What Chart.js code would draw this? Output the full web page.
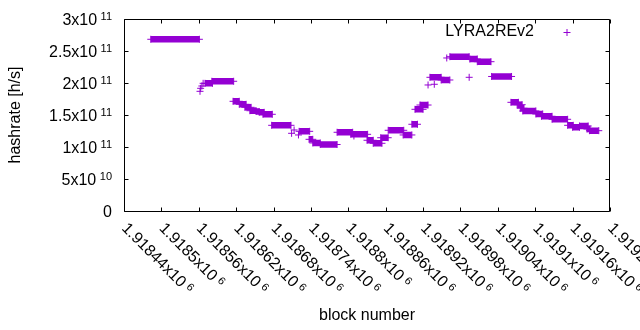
<!DOCTYPE html>
<html>
<head>
<meta charset="utf-8">
<script src="https://cdn.jsdelivr.net/npm/chart.js@4"></script>
<style>
  html, body { margin: 0; padding: 0; background: #fff; }
  #wrap { width: 640px; height: 330px; }
</style>
</head>
<body>
<div id="wrap"><canvas id="myChart" width="640" height="330"></canvas></div>
<script>
// runs of (almost) constant hashrate: first block, last block, h/s
const runStart = [
  1918483, 1918562, 1918563, 1918565, 1918567, 1918570, 1918581, 1918615, 1918625, 1918634,
  1918642, 1918652, 1918657, 1918663, 1918677, 1918709, 1918713, 1918720, 1918721, 1918737,
  1918743, 1918755, 1918782, 1918804, 1918809, 1918830, 1918840, 1918852, 1918864, 1918888,
  1918902, 1918907, 1918915, 1918928, 1918931, 1918938, 1918949, 1918958, 1918963, 1918994,
  1918995, 1919007, 1919030, 1919061, 1919071, 1919076, 1919080, 1919101, 1919110, 1919127,
  1919152, 1919160, 1919171, 1919183, 1919187
];
const runEnd = [
  1918561, 1918562, 1918563, 1918565, 1918567, 1918582, 1918616, 1918625, 1918636, 1918644,
  1918652, 1918657, 1918665, 1918678, 1918708, 1918709, 1918713, 1918720, 1918738, 1918743,
  1918755, 1918782, 1918807, 1918831, 1918809, 1918840, 1918854, 1918864, 1918889, 1918902,
  1918911, 1918920, 1918928, 1918928, 1918949, 1918938, 1918963, 1918958, 1918994, 1918994,
  1919007, 1919029, 1919062, 1919073, 1919079, 1919082, 1919101, 1919112, 1919127, 1919152,
  1919161, 1919171, 1919185, 1919188, 1919202
];
const runRate = [
  2.683e11, 1.870e11, 1.917e11, 1.953e11, 1.995e11, 1.995e11, 2.027e11, 1.714e11, 1.667e11, 1.620e11,
  1.567e11, 1.555e11, 1.542e11, 1.511e11, 1.339e11, 1.214e11, 1.266e11, 1.188e11, 1.245e11, 1.120e11,
  1.063e11, 1.039e11, 1.230e11, 1.198e11, 1.172e11, 1.105e11, 1.058e11, 1.145e11, 1.261e11, 1.188e11,
  1.355e11, 1.589e11, 1.656e11, 1.969e11, 2.089e11, 1.980e11, 2.047e11, 2.391e11, 2.411e11, 2.089e11,
  2.375e11, 2.333e11, 2.102e11, 1.698e11, 1.661e11, 1.605e11, 1.563e11, 1.516e11, 1.480e11, 1.433e11,
  1.339e11, 1.308e11, 1.328e11, 1.281e11, 1.255e11
];

const seriesName = "LYRA2REv2";

const yTickValues = [0, 5e10, 1e11, 1.5e11, 2e11, 2.5e11, 3e11];
const yTickMant = ["0", "5", "1", "1.5", "2", "2.5", "3"];
const yTickExp = ["", "10", "11", "11", "11", "11", "11"];

const xTickValues = [
  1918440, 1918500, 1918560, 1918620, 1918680, 1918740, 1918800,
  1918860, 1918920, 1918980, 1919040, 1919100, 1919160, 1919220
];
const xTickMant = [
  "1.91844", "1.9185", "1.91856", "1.91862", "1.91868", "1.91874", "1.9188",
  "1.91886", "1.91892", "1.91898", "1.91904", "1.9191", "1.91916", "1.91922"
];
const xTickExp = "6";

const purple = "#9400d3";
const FONT = '"Liberation Sans", Arial, sans-serif';
const MAIN = 16;
const SUP = 11;

// each run becomes a thick stroke between its first and last block, gaps between runs
const points = [];
runStart.forEach((s, i) => {
  points.push({ x: s, y: runRate[i] });
  if (runEnd[i] !== s) points.push({ x: runEnd[i], y: runRate[i] });
  points.push({ x: runEnd[i], y: null });
});

// "mantissa x10^exp" drawn left aligned from (x, y) baseline
function sciWidth(ctx, mant, exp) {
  ctx.font = MAIN + "px " + FONT;
  let w = ctx.measureText(exp ? mant + "x10" : mant).width;
  if (exp) {
    w += 3.5;
    ctx.font = SUP + "px " + FONT;
    w += ctx.measureText(exp).width;
  }
  return w;
}
function sciText(ctx, mant, exp, x, y) {
  ctx.textAlign = "left";
  ctx.textBaseline = "alphabetic";
  ctx.font = MAIN + "px " + FONT;
  const main = exp ? mant + "x10" : mant;
  ctx.fillText(main, x, y);
  if (exp) {
    const w = ctx.measureText(main).width + 3.5;
    ctx.font = SUP + "px " + FONT;
    ctx.fillText(exp, x + w, y - 4.5);
  }
}

const gnuplotFrame = {
  id: "gnuplotFrame",
  afterDraw(chart) {
    const ctx = chart.ctx;
    const xs = chart.scales.x;
    const ys = chart.scales.y;
    const a = chart.chartArea;
    const L = Math.round(a.left) + 0.5;
    const R = Math.round(a.right) - 0.5;
    const T = Math.round(a.top) + 0.5;
    const B = Math.round(a.bottom) + 0.5;
    const tk = 4;

    ctx.save();
    ctx.strokeStyle = "#000";
    ctx.lineWidth = 1;
    ctx.beginPath();
    ctx.rect(L, T, R - L, B - T);

    yTickValues.forEach((v) => {
      const py = Math.round(ys.getPixelForValue(v)) + 0.5;
      ctx.moveTo(L, py); ctx.lineTo(L + tk, py);
      ctx.moveTo(R, py); ctx.lineTo(R - tk, py);
    });
    xTickValues.forEach((v) => {
      const px = Math.round(xs.getPixelForValue(v)) + 0.5;
      ctx.moveTo(px, B); ctx.lineTo(px, B - tk);
      ctx.moveTo(px, T); ctx.lineTo(px, T + tk);
    });
    ctx.stroke();

    ctx.fillStyle = "#000";
    // y tick labels, right aligned
    yTickValues.forEach((v, i) => {
      const py = ys.getPixelForValue(v);
      const w = sciWidth(ctx, yTickMant[i], yTickExp[i]);
      sciText(ctx, yTickMant[i], yTickExp[i], 112 - w, py + 5.5);
    });

    // x tick labels, rotated down-right
    xTickValues.forEach((v, i) => {
      const px = xs.getPixelForValue(v);
      ctx.save();
      ctx.translate(px - 3, a.bottom + 18);
      ctx.rotate(Math.PI / 4);
      sciText(ctx, xTickMant[i], xTickExp, 0, 0);
      ctx.restore();
    });

    // axis titles
    ctx.font = MAIN + "px " + FONT;
    ctx.textAlign = "center";
    ctx.textBaseline = "middle";
    ctx.fillText("block number", (a.left + a.right) / 2, 316);
    ctx.save();
    ctx.translate(16, (a.top + a.bottom) / 2);
    ctx.rotate(-Math.PI / 2);
    ctx.fillText("hashrate [h/s]", 0, 0);
    ctx.restore();

    // key
    ctx.textAlign = "right";
    ctx.fillText(seriesName, 534, 32);
    ctx.strokeStyle = purple;
    ctx.beginPath();
    ctx.moveTo(563.5, 32.5); ctx.lineTo(570.5, 32.5);
    ctx.moveTo(567, 29); ctx.lineTo(567, 36);
    ctx.stroke();
    ctx.restore();
  }
};

new Chart(document.getElementById("myChart"), {
  type: "line",
  data: {
    datasets: [
      {
        label: seriesName,
        data: points,
        borderColor: purple,
        backgroundColor: purple,
        borderWidth: 6.5,
        borderCapStyle: "butt",
        spanGaps: false,
        pointStyle: "cross",
        pointRadius: 3.5,
        pointBorderWidth: 1,
        pointBorderColor: purple,
        fill: false,
      },
    ],
  },
  options: {
    responsive: false,
    animation: false,
    layout: { padding: { left: 124, right: 30, top: 19, bottom: 119 } },
    plugins: {
      legend: { display: false },
      tooltip: { enabled: false },
    },
    scales: {
      x: { type: "linear", display: false, min: 1918440, max: 1919220 },
      y: { type: "linear", display: false, min: 0, max: 3e11 },
    },
  },
  plugins: [gnuplotFrame],
});
</script>
</body>
</html>
